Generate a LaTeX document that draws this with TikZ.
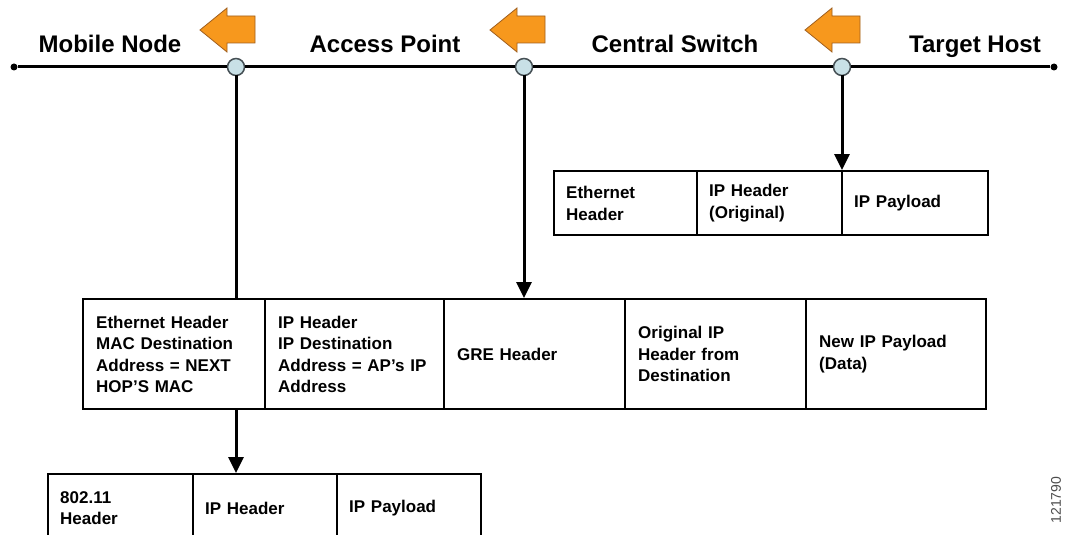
\documentclass[tikz,border=0pt]{standalone}
\usepackage{fontspec}
\setmainfont{Liberation Sans}
\usetikzlibrary{arrows.meta}
\definecolor{arroworange}{RGB}{247,152,29}
\definecolor{arrowedge}{RGB}{160,95,30}
\definecolor{hubfill}{RGB}{200,224,230}
\definecolor{hubedge}{RGB}{70,80,85}
\begin{document}
\begin{tikzpicture}[x=1pt,y=-1pt,
  lbl/.style={anchor=base, font=\fontsize{24}{28}\selectfont\bfseries},
  hub/.style={circle, draw=hubedge, fill=hubfill, line width=1.5pt, minimum size=17pt, inner sep=0pt},
  enddot/.style={circle, fill=black, minimum size=7pt, inner sep=0pt},
  cell/.style={draw, line width=2.4pt, anchor=north west, align=left, inner ysep=0pt,
    font=\fontsize{17}{21.5}\selectfont\bfseries},
  mcell/.style={cell, minimum height=110pt, inner xsep=13pt},
  tcell/.style={cell, minimum height=64pt, inner xsep=12pt},
  bcell/.style={cell, minimum height=68pt, inner xsep=12pt},
  conn/.style={line width=3pt, line cap=rect},
  tip/.style={-{Triangle[width=15pt,length=16pt]}},
  bigarrow/.style={fill=arroworange, draw=arrowedge, line width=0.8pt, line join=miter}
]
\clip (0,0) rectangle (1066,535);
\fill[white] (0,0) rectangle (1066,535);

% timeline
\node[enddot] (e1) at (14,67) {};
\node[enddot] (e2) at (1054,67) {};
\node[hub] (c1) at (236,67) {};
\node[hub] (c2) at (524,67) {};
\node[hub] (c3) at (842,67) {};
\draw[line width=3pt] (e1) -- (c1);
\draw[line width=3pt] (c1) -- (c2);
\draw[line width=3pt] (c2) -- (c3);
\draw[line width=3pt] (c3) -- (e2);

% labels
\node[lbl] (lmn) at (110,53) {Mobile Node};
\node[lbl] (lap) at (385,53) {Access Point};
\node[lbl] (lcs) at (675,53) {Central Switch};
\node[lbl] (lth) at (975,53) {Target Host};

% orange arrows
\foreach \dx in {0,290,605}{
  \draw[bigarrow, xshift=\dx pt] (200,30) -- (227,8) -- (227,16) -- (255,16) -- (255,43) -- (227,43) -- (227,52) -- cycle;
}

% top frame
\node[tcell, text width=119pt] (tA) at (553,170) {Ethernet\\Header};
\node[tcell, text width=121pt] (tB) at (696,170) {IP Header\\(Original)};
\node[tcell, text width=122pt] (tC) at (841,170) {IP Payload};

% middle frame
\node[mcell, text width=156pt] (mA) at (82,298) {Ethernet Header\\MAC Destination\\Address = NEXT\\HOP'S MAC};
\node[mcell, text width=153pt] (mB) at (264,298) {IP Header\\IP Destination\\Address = AP's IP\\Address};
\node[mcell, text width=155pt] (mC) at (443,298) {GRE Header};
\node[mcell, text width=155pt] (mD) at (624,298) {Original IP\\Header from\\Destination};
\node[mcell, text width=154pt] (mE) at (805,298) {New IP Payload\\(Data)};

% bottom frame
\node[bcell, text width=121pt] (bA) at (47,473) {802.11\\Header};
\node[bcell, text width=120pt] (bB) at (192,473) {IP Header};
\node[bcell, text width=120pt] (bC) at (336,473) {IP Payload};

% connectors
\draw[conn] (c1) -- (c1 |- mA.north);
\draw[conn, tip] (c1 |- mA.south) -- (c1 |- bB.north);
\draw[conn, tip] (c2) -- (c2 |- mC.north);
\draw[conn, tip] (c3) -- (c3 |- tC.north);

% figure id
\node[rotate=90, font=\fontsize{14}{14}\selectfont, text=black!70] (fid) at (1056,500) {121790};
\end{tikzpicture}
\end{document}
